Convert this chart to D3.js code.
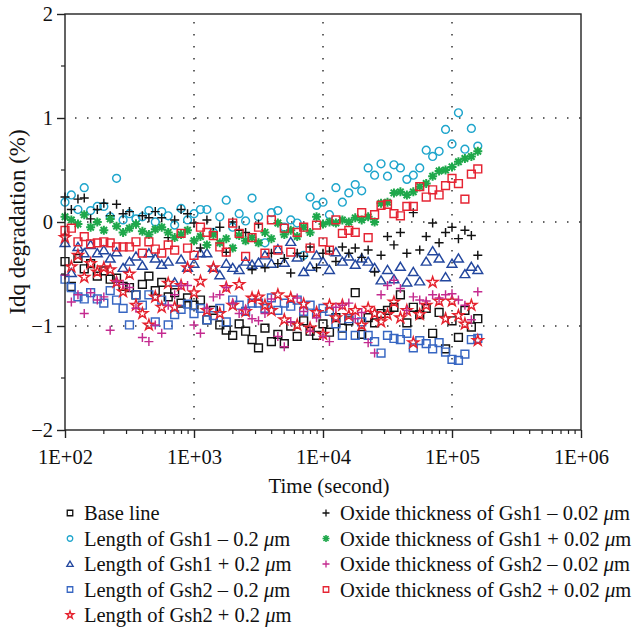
<!doctype html>
<html lang="en">
<head>
<meta charset="UTF-8">
<title>Idq degradation</title>
<style>
  body { margin: 0; background: #fff; }
  svg text { font-family: "Liberation Serif", "Times New Roman", serif; fill: #111; }
  .frame { stroke: #222; stroke-width: 1.4px; fill: none; }
  .grid { stroke: #333; stroke-width: 1.5px; stroke-dasharray: 1.5 10.5; fill: none; }
</style>
</head>
<body>
<svg width="638" height="628"></svg>
<script src="https://d3js.org/d3.v7.min.js"></script>
<script>
// time points (s)
const times = [100, 112, 126, 141, 158, 178, 200, 224, 251, 282,
  316, 355, 398, 447, 501, 562, 631, 708, 794, 891,
  1000, 1122, 1259, 1413, 1585, 1778, 1995, 2239, 2512, 2818,
  3162, 3548, 3981, 4467, 5012, 5623, 6310, 7079, 7943, 8913,
  10000, 11220, 12590, 14130, 15850, 17780, 19950, 22390, 25120, 28180,
  31620, 35480, 39810, 44670, 50120, 56230, 63100, 70790, 79430, 89130,
  100000, 112200, 125900, 141300, 158500]

const baseLine = [-0.38, -0.62, -0.35, -0.45, -0.40, -0.52, -0.47, -0.55, -0.54, -0.62,
  -0.63, -0.70, -0.60, -0.52, -0.66, -0.58, -0.72, -0.68, -0.78, -0.73,
  -0.80, -0.75, -0.94, -0.85, -0.99, -1.04, -1.09, -0.98, -1.05, -1.13,
  -1.21, -1.02, -1.15, -1.08, -1.17, -1.00, -1.10, -0.95, -1.05, -1.09,
  -0.98, -1.06, -0.92, -1.02, -0.95, -0.68, -1.08, -0.92, -0.97, -0.88,
  -0.85, -0.82, -0.70, -0.97, -0.82, -0.89, -0.83, -1.07, -0.87, -1.22,
  -0.95, -1.11, -0.85, -1.01, -0.93]

const lenGsh1Minus = [0.19, 0.26, 0.12, 0.33, 0.11, 0.15, 0.15, 0.05, 0.42, 0.02,
  0.08, 0.03, 0.05, 0.11, 0.00, 0.10, 0.06, -0.03, 0.13, 0.02,
  0.08, 0.12, 0.12, -0.10, 0.05, 0.21, -0.05, 0.08, 0.01, 0.23,
  0.05, -0.20, 0.09, 0.11, -0.05, 0.02, -0.01, -0.32, 0.24, 0.16,
  0.19, 0.07, 0.33, 0.19, 0.28, 0.36, 0.30, 0.52, 0.45, 0.56,
  0.44, 0.55, 0.52, 0.41, 0.45, 0.52, 0.69, 0.63, 0.68, 0.89,
  0.75, 1.05, 0.70, 0.90, 0.73]

const lenGsh1Plus = [-0.20, -0.49, -0.24, -0.30, -0.22, -0.30, -0.27, -0.35, -0.29, -0.44,
  -0.38, -0.33, -0.42, -0.30, -0.35, -0.41, -0.38, -0.58, -0.36, -0.44,
  -0.40, -0.30, -0.30, -0.44, -0.51, -0.40, -0.44, -0.46, -0.38, -0.41,
  -0.39, -0.32, -0.40, -0.26, -0.39, -0.19, -0.34, -0.48, -0.43, -0.32,
  -0.38, -0.46, -0.29, -0.38, -0.33, -0.41, -0.35, -0.38, -0.44, -0.56,
  -0.46, -0.55, -0.43, -0.58, -0.48, -0.57, -0.38, -0.28, -0.35, -0.53,
  -0.40, -0.35, -0.50, -0.43, -0.46]

const lenGsh2Minus = [-0.55, -0.63, -0.72, -0.74, -0.68, -0.74, -0.78, -0.66, -0.75, -0.83,
  -0.99, -0.70, -0.80, -0.70, -0.96, -0.75, -0.99, -0.89, -0.84, -0.79,
  -0.88, -0.83, -0.94, -0.90, -0.83, -0.96, -0.75, -0.80, -0.86, -0.78,
  -0.78, -0.83, -0.73, -0.85, -0.78, -0.81, -0.75, -0.86, -0.80, -0.88,
  -0.83, -0.86, -0.98, -1.09, -0.93, -1.09, -0.96, -1.09, -1.15, -1.26,
  -1.09, -1.12, -1.13, -1.07, -1.21, -1.14, -1.17, -1.22, -1.16, -1.25,
  -1.32, -1.33, -1.27, -1.13, -1.12]

const lenGsh2Plus = [-0.15, -0.43, -0.32, -0.53, -0.40, -0.48, -0.44, -0.46, -0.58, -0.67,
  -0.50, -0.80, -0.88, -0.99, -0.72, -0.82, -0.59, -0.82, -0.61, -0.44,
  -0.68, -0.57, -0.85, -0.44, -0.88, -0.63, -0.80, -0.60, -0.86, -0.73,
  -0.72, -0.80, -0.85, -0.70, -0.94, -0.73, -0.99, -0.79, -1.02, -0.87,
  -1.08, -0.80, -0.92, -0.80, -0.90, -0.85, -0.99, -0.83, -0.88, -0.96,
  -0.89, -0.77, -0.92, -0.85, -1.16, -0.89, -0.80, -0.58, -0.76, -0.93,
  -0.76, -0.90, -0.98, -0.80, -1.14]

const oxGsh1Minus = [0.24, 0.12, 0.22, 0.23, 0.03, 0.12, 0.18, 0.06, 0.17, 0.08,
  0.10, -0.02, 0.06, 0.04, 0.10, 0.04, -0.15, 0.02, 0.12, 0.08,
  -0.01, -0.25, 0.02, -0.10, -0.05, -0.29, 0.00, -0.08, -0.10, -0.46,
  -0.02, -0.44, -0.30, -0.40, -0.35, -0.49, -0.30, -0.33, -0.24, -0.44,
  -0.30, -0.28, -0.38, -0.24, -0.30, -0.25, -0.34, -0.27, -0.48, -0.32,
  -0.14, -0.22, -0.10, -0.30, 0.09, -0.27, -0.14, -0.01, -0.20, -0.10,
  -0.05, -0.16, -0.08, -0.13, -0.32]

const oxGsh1Plus = [0.05, 0.02, -0.02, 0.07, -0.05, 0.00, -0.08, 0.03, -0.04, -0.10,
  -0.06, -0.02, -0.09, -0.12, -0.07, -0.05, -0.10, -0.15, -0.12, -0.08,
  -0.18, -0.14, -0.22, -0.12, -0.20, -0.16, -0.25, -0.13, -0.18, -0.15,
  -0.20, -0.10, -0.16, -0.01, -0.12, -0.08, -0.14, -0.05, -0.10, 0.05,
  -0.02, 0.00, -0.01, 0.02, 0.00, 0.04, 0.02, 0.05, 0.00, 0.18,
  0.19, 0.28, 0.29, 0.26, 0.29, 0.34, 0.37, 0.44, 0.49, 0.50,
  0.53, 0.58, 0.61, 0.63, 0.68]

const oxGsh2Minus = [-0.51, -0.77, -0.70, -0.88, -0.68, -0.75, -0.72, -1.04, -0.57, -0.60,
  -0.63, -0.83, -1.11, -1.15, -0.99, -1.07, -0.80, -0.70, -0.61, -0.61,
  -0.99, -1.07, -0.83, -0.72, -0.70, -0.63, -0.78, -0.88, -0.84, -0.93,
  -0.95, -0.88, -0.74, -1.10, -1.20, -0.96, -0.73, -0.86, -1.05, -0.92,
  -1.10, -1.15, -0.82, -0.80, -0.78, -0.93, -0.87, -1.16, -1.26, -0.70,
  -0.61, -0.56, -0.64, -0.85, -0.72, -0.75, -0.76, -0.70, -0.73, -0.70,
  -0.69, -0.75, -0.80, -0.94, -0.67]

const oxGsh2Plus = [-0.08, -0.06, -0.19, -0.14, -0.21, -0.20, -0.19, -0.20, -0.24, -0.24,
  -0.24, -0.19, -0.30, -0.19, -0.26, -0.30, -0.22, -0.27, -0.11, -0.25,
  -0.32, -0.05, -0.10, -0.13, -0.24, -0.29, -0.01, -0.11, -0.33, -0.15,
  -0.05, -0.30, 0.02, -0.27, -0.06, -0.29, -0.10, -0.05, -0.25, -0.03,
  -0.19, -0.27, 0.02, -0.11, -0.08, -0.10, 0.09, -0.15, 0.07, 0.16,
  0.17, 0.08, 0.06, 0.15, 0.15, 0.34, 0.24, 0.31, 0.26, 0.35,
  0.42, 0.37, 0.22, 0.46, 0.51]

// legend labels, split round the italic mu
const seriesNames = ['Base line', 'Length of Gsh1 \u2013 0.2 ', 'Length of Gsh1 + 0.2 ',
  'Length of Gsh2 \u2013 0.2 ', 'Length of Gsh2 + 0.2 ',
  'Oxide thickness of Gsh1 \u2013 0.02 ', 'Oxide thickness of Gsh1 + 0.02 ',
  'Oxide thickness of Gsh2 \u2013 0.02 ', 'Oxide thickness of Gsh2 + 0.02 ']
const seriesValues = [baseLine, lenGsh1Minus, lenGsh1Plus, lenGsh2Minus, lenGsh2Plus,
  oxGsh1Minus, oxGsh1Plus, oxGsh2Minus, oxGsh2Plus]
const xTickLabels = ['1E+02', '1E+03', '1E+04', '1E+05', '1E+06']
const yTicks = [-2, -1, 0, 1, 2]

// marker look per series
const styles = [
  {shape: 'square', color: '#111'},
  {shape: 'circle', color: '#1ea5cc'},
  {shape: 'triangle', color: '#23479e'},
  {shape: 'square', color: '#3766c2'},
  {shape: 'star', color: '#e5222e'},
  {shape: 'plus', color: '#111'},
  {shape: 'asterisk', color: '#1fa84b'},
  {shape: 'plus', color: '#c42a8f'},
  {shape: 'square', color: '#e52433'}
]

const svg = d3.select('svg')
const mLeft = 65, mRight = 581, mTop = 14, mBottom = 430

const x = d3.scaleLog().domain([100, 1e6]).range([mLeft, mRight])
const y = d3.scaleLinear().domain([-2, 2]).range([mBottom, mTop])

function markerPath (shape, s) {
  const h = s / 2
  switch (shape) {
    case 'square': return `M${-h},${-h}H${h}V${h}H${-h}Z`
    case 'circle': return d3.symbol(d3.symbolCircle, Math.PI * h * h)()
    case 'triangle': return `M0,${-h * 1.05}L${h * 1.15},${h * 0.85}L${-h * 1.15},${h * 0.85}Z`
    case 'star': return d3.symbol(d3.symbolStar, s * s * 0.6)()
    case 'plus': return `M${-h},0H${h}M0,${-h}V${h}`
    case 'asterisk': {
      const d = h * 0.72
      return `M${-h},0H${h}M0,${-h}V${h}M${-d},${-d}L${d},${d}M${-d},${d}L${d},${-d}`
    }
  }
}

// grid
const grid = svg.append('g')
;[1e3, 1e4, 1e5].forEach(v => {
  grid.append('line').attr('class', 'grid')
    .attr('x1', x(v)).attr('x2', x(v)).attr('y1', mTop + 8).attr('y2', mBottom)
})
;[-1, 0, 1].forEach(v => {
  grid.append('line').attr('class', 'grid')
    .attr('x1', mLeft + 10).attr('x2', mRight).attr('y1', y(v)).attr('y2', y(v))
})

// points
const plot = svg.append('g')
seriesValues.forEach((vals, i) => {
  const st = styles[i]
  const sz = st.shape === 'triangle' ? 8.5 : (st.shape === 'plus' || st.shape === 'asterisk' ? 9 : 7.8)
  plot.append('g').selectAll('path')
    .data(vals.map((v, j) => [times[j], v]))
    .enter()
    .append('path')
    .attr('transform', d => `translate(${x(d[0])},${y(d[1])})`)
    .attr('d', markerPath(st.shape, sz))
    .attr('fill', 'none')
    .attr('stroke', st.color)
    .attr('stroke-width', st.shape === 'asterisk' ? 2 : 1.45)
})

// axes
const xAxis = d3.axisBottom(x).tickValues([1e2, 1e3, 1e4, 1e5, 1e6]).tickSize(8)
  .tickFormat((d, i) => xTickLabels[i])
const gx = svg.append('g').attr('transform', `translate(0,${mBottom})`).call(xAxis)
gx.select('.domain').remove()
gx.selectAll('line').attr('stroke', '#222').attr('stroke-width', 1.4)
gx.selectAll('text').attr('dy', '1.1em').style('font-size', '20.5px')

const minorX = []
for (let e = 2; e < 6; e++) for (let m = 2; m < 10; m++) minorX.push(m * Math.pow(10, e))
svg.append('g').selectAll('line').data(minorX).enter().append('line')
  .attr('x1', d => x(d)).attr('x2', d => x(d)).attr('y1', mBottom).attr('y2', mBottom + 4)
  .attr('stroke', '#222').attr('stroke-width', 1.2)

const yAxis = d3.axisLeft(y).tickValues(yTicks).tickSize(8)
  .tickFormat(d => d < 0 ? '\u2212' + Math.abs(d) : d)
const gy = svg.append('g').attr('transform', `translate(${mLeft},0)`).call(yAxis)
gy.select('.domain').remove()
gy.selectAll('line').attr('stroke', '#222').attr('stroke-width', 1.4)
gy.selectAll('text').attr('x', -12).style('font-size', '20.5px')

svg.append('g').selectAll('line').data([-1.5, -0.5, 0.5, 1.5]).enter().append('line')
  .attr('x1', mLeft - 4).attr('x2', mLeft).attr('y1', d => y(d)).attr('y2', d => y(d))
  .attr('stroke', '#222').attr('stroke-width', 1.2)

// frame
svg.append('rect').attr('class', 'frame')
  .attr('x', mLeft).attr('y', mTop).attr('width', mRight - mLeft).attr('height', mBottom - mTop)

// titles
svg.append('text').attr('x', (mLeft + mRight) / 2 + 6).attr('y', 493)
  .attr('text-anchor', 'middle').style('font-size', '21px').text('Time (second)')
svg.append('text')
  .attr('transform', `translate(25,${(mTop + mBottom) / 2}) rotate(-90)`)
  .attr('text-anchor', 'middle').style('font-size', '23px').text('Idq degradation (%)')

// legend
const legend = svg.append('g')
seriesNames.forEach((name, i) => {
  const col = i < 5 ? 0 : 1
  const row = i < 5 ? i : i - 5
  const lx = col === 0 ? 70 : 326
  const ly = 513 + row * 25.5
  const st = styles[i]
  legend.append('path')
    .attr('transform', `translate(${lx},${ly})`)
    .attr('d', markerPath(st.shape, st.shape === 'plus' || st.shape === 'asterisk' ? 7 : 5.5))
    .attr('fill', 'none').attr('stroke', st.color)
    .attr('stroke-width', st.shape === 'asterisk' ? 1.6 : 1.3)
  const t = legend.append('text').attr('x', lx + 14).attr('y', ly + 7)
    .style('font-size', '20.5px').text(name)
  if (i > 0) {
    t.append('tspan').style('font-style', 'italic').text('\u03bc')
    t.append('tspan').text('m')
  }
})
</script>
</body>
</html>
